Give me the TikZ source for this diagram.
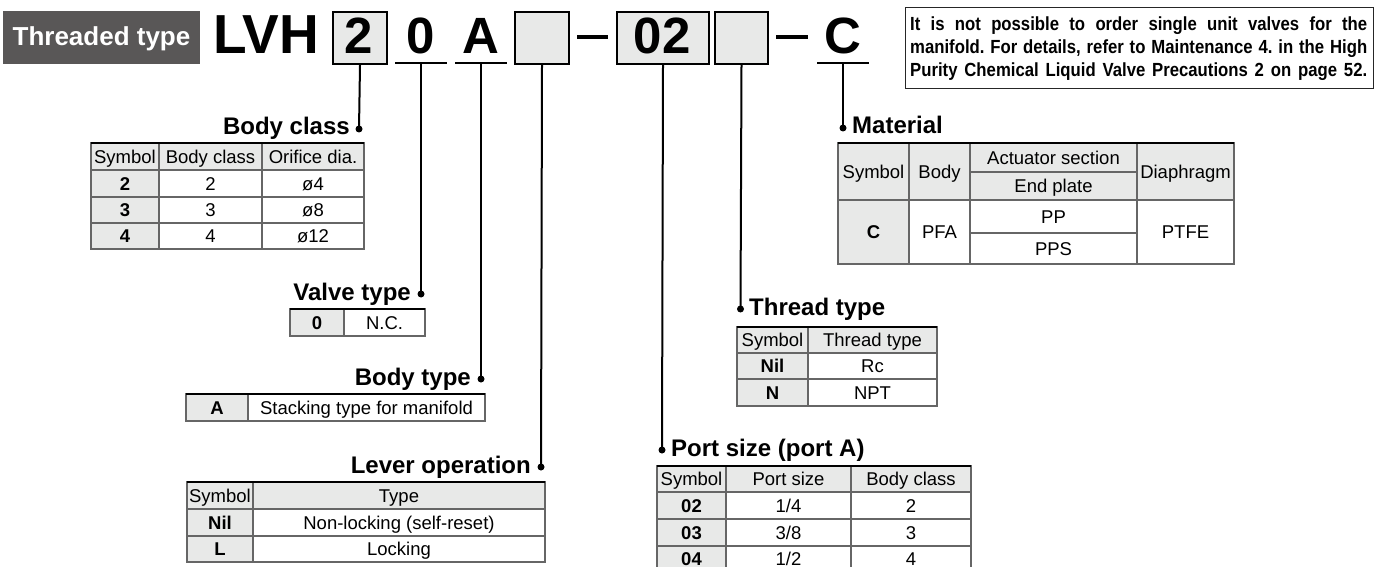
\documentclass[tikz,border=0pt]{standalone}
\usepackage{fontspec}
\setmainfont{Liberation Sans}
\newfontfamily\condfont[FakeStretch=0.88]{Liberation Sans}
\definecolor{cellgray}{HTML}{E8E9E8}
\definecolor{gridgray}{HTML}{666666}
\definecolor{tagbg}{HTML}{595757}
\newcommand{\celln}[4]{\node[txt] (#1) at (#2,#3) {#4};}
\newcommand{\cellb}[4]{\node[btxt] (#1) at (#2,#3) {#4};}
\frenchspacing
\begin{document}
\begin{tikzpicture}[x=1pt,y=-1pt,
  txt/.style={font=\fontsize{18.5}{20}\selectfont, inner sep=0pt, text height=13.2pt, text depth=0pt},
  btxt/.style={font=\fontsize{18.5}{20}\selectfont\bfseries, inner sep=0pt, text height=13.2pt, text depth=0pt},
  grid/.style={draw=gridgray, line width=1.2pt},
  topb/.style={draw=black, line width=2.5pt},
  ttl/.style={font=\fontsize{24}{26}\selectfont\bfseries, inner sep=0pt},
  lead/.style={line width=2pt},
  dotc/.style={circle, fill=black, inner sep=0pt, minimum size=7pt},
  codebox/.style={draw=black, line width=2pt, fill=cellgray, inner sep=0pt},
  code/.style={font=\fontsize{51}{53}\selectfont\bfseries, inner sep=0pt, anchor=base},
  notefont/.style={font=\condfont\bfseries\fontsize{19}{21}\selectfont, inner sep=0pt, anchor=base west}
]
\useasboundingbox (0,0) rectangle (1384,567);

% ---------- header ----------
\node[fill=tagbg, minimum width=197pt, minimum height=53pt, inner sep=0pt, anchor=north west] (tag) at (3,11) {};
\node[font=\fontsize{26}{28}\selectfont\bfseries, text=white, inner sep=0pt, anchor=base] (tagtext) at (101.5,46) {Threaded type};
\node[font=\fontsize{55}{57}\selectfont\bfseries, inner sep=0pt, anchor=base west] (lvh) at (213,54) {LVH};

\node[codebox, minimum width=54pt, minimum height=52pt, anchor=north west] (b2) at (332,11) {};
\node[code] (t2) at (359,54) {2};
\node[code] (t0) at (421,54) {0};
\draw[lead] (395,63) -- (447,63);
\coordinate (u0) at (421,63);
\node[code] (tA) at (481,54) {A};
\draw[lead] (455,63) -- (507,63);
\coordinate (uA) at (481,63);
\node[codebox, minimum width=54pt, minimum height=52pt, anchor=north west] (bL) at (514,11) {};
\draw[line width=3.5pt] (577,37) -- (608,37);
\node[codebox, minimum width=92pt, minimum height=52pt, anchor=north west] (b02) at (616,11) {};
\node[code] (t02) at (662,54) {02};
\node[codebox, minimum width=53pt, minimum height=52pt, anchor=north west] (bT) at (714,11) {};
\draw[line width=3.5pt] (776,37) -- (808,37);
\node[code] (tC) at (843,54) {C};
\draw[lead] (817,63) -- (869,63);
\coordinate (uC) at (843,63);

% note
\node[draw=black!85, line width=1.3pt, minimum width=468pt, minimum height=81pt, inner sep=0pt, anchor=north west] (note) at (905,7) {};
\node[notefont] (n1) at (910,31) {\makebox[457pt][s]{It is not possible to order single unit valves for the}};
\node[notefont] (n2) at (910,54) {\makebox[457pt][s]{manifold. For details, refer to Maintenance 4. in the High}};
\node[notefont] (n3) at (910,77) {\makebox[457pt][s]{Purity Chemical Liquid Valve Precautions 2 on page 52.}};

% ---------- dots and titles ----------
\node[dotc] (dBC) at (359,129) {};
\node[ttl, anchor=base east] (tiBC) at (350,135) {Body class};
\node[dotc] (dVT) at (421,294) {};
\node[ttl, anchor=base east] (tiVT) at (411,300) {Valve type};
\node[dotc] (dBT) at (481,379) {};
\node[ttl, anchor=base east] (tiBT) at (471,385) {Body type};
\node[dotc] (dLO) at (541,467) {};
\node[ttl, anchor=base east] (tiLO) at (531,473) {Lever operation};
\node[dotc] (dPS) at (662,450) {};
\node[ttl, anchor=base west] (tiPS) at (671,456) {Port size (port A)};
\node[dotc] (dTT) at (740.5,309) {};
\node[ttl, anchor=base west] (tiTT) at (749,315) {Thread type};
\node[dotc] (dMA) at (843,128) {};
\node[ttl, anchor=base west] (tiMA) at (852,134) {Material};

\draw[lead] (b2.south) -- (dBC.center);
\draw[lead] (u0) -- (dVT.center);
\draw[lead] (uA) -- (dBT.center);
\draw[lead] (bL.south) -- (dLO.center);
\draw[lead] (b02.south) -- (dPS.center);
\draw[lead] (bT.south) -- (dTT.center);
\draw[lead] (uC) -- (dMA.center);

% ---------- Body class table ----------
\fill[cellgray] (91,143) rectangle (364,170);
\fill[cellgray] (91,170) rectangle (159,249);
\draw[grid] (91,143) rectangle (364,249);
\draw[grid] (91,170) -- (364,170) (91,197) -- (364,197) (91,223) -- (364,223);
\draw[grid] (159,143) -- (159,249) (262,143) -- (262,249);
\draw[topb] (91,143) -- (364,143);
\celln{bc11}{125}{156.5}{Symbol}
\celln{bc12}{210.5}{156.5}{Body class}
\celln{bc13}{313}{156.5}{Orifice dia.}
\cellb{bc21}{125}{183.5}{2}
\celln{bc22}{210.5}{183.5}{2}
\celln{bc23}{313}{183.5}{ø4}
\cellb{bc31}{125}{210}{3}
\celln{bc32}{210.5}{210}{3}
\celln{bc33}{313}{210}{ø8}
\cellb{bc41}{125}{236}{4}
\celln{bc42}{210.5}{236}{4}
\celln{bc43}{313}{236}{ø12}

% ---------- Valve type table ----------
\fill[cellgray] (290,309) rectangle (344,336);
\draw[grid] (290,309) rectangle (425,336);
\draw[grid] (344,309) -- (344,336);
\draw[topb] (290,309) -- (425,309);
\cellb{vt1}{317}{322.5}{0}
\celln{vt2}{384.5}{322.5}{N.C.}

% ---------- Body type table ----------
\fill[cellgray] (186,394) rectangle (248,421);
\draw[grid] (186,394) rectangle (485,421);
\draw[grid] (248,394) -- (248,421);
\draw[topb] (186,394) -- (485,394);
\cellb{bt1}{217}{407.5}{A}
\celln{bt2}{366.5}{407.5}{Stacking type for manifold}

% ---------- Lever operation table ----------
\fill[cellgray] (187,482) rectangle (545,509);
\fill[cellgray] (187,509) rectangle (253,562);
\draw[grid] (187,482) rectangle (545,562);
\draw[grid] (187,509) -- (545,509) (187,536) -- (545,536);
\draw[grid] (253,482) -- (253,562);
\draw[topb] (187,482) -- (545,482);
\celln{lo11}{220}{495.5}{Symbol}
\celln{lo12}{399}{495.5}{Type}
\cellb{lo21}{220}{522.5}{Nil}
\celln{lo22}{399}{522.5}{Non-locking (self-reset)}
\cellb{lo31}{220}{549}{L}
\celln{lo32}{399}{549}{Locking}

% ---------- Thread type table ----------
\fill[cellgray] (737,327) rectangle (937,353);
\fill[cellgray] (737,353) rectangle (808,406);
\draw[grid] (737,327) rectangle (937,406);
\draw[grid] (737,353) -- (937,353) (737,379) -- (937,379);
\draw[grid] (808,327) -- (808,406);
\draw[topb] (737,327) -- (937,327);
\celln{tt11}{772.5}{340}{Symbol}
\celln{tt12}{872.5}{340}{Thread type}
\cellb{tt21}{772.5}{366}{Nil}
\celln{tt22}{872.5}{366}{Rc}
\cellb{tt31}{772.5}{392.5}{N}
\celln{tt32}{872.5}{392.5}{NPT}

% ---------- Port size table ----------
\fill[cellgray] (657,466) rectangle (971,492);
\fill[cellgray] (657,492) rectangle (726,575);
\draw[grid] (657,575) -- (657,466) -- (971,466) -- (971,575);
\draw[grid] (657,492) -- (971,492) (657,519) -- (971,519) (657,546) -- (971,546);
\draw[grid] (726,466) -- (726,575) (851,466) -- (851,575);
\draw[topb] (657,466) -- (971,466);
\celln{ps11}{691.5}{479}{Symbol}
\celln{ps12}{788.5}{479}{Port size}
\celln{ps13}{911}{479}{Body class}
\cellb{ps21}{691.5}{505.5}{02}
\celln{ps22}{788.5}{505.5}{1/4}
\celln{ps23}{911}{505.5}{2}
\cellb{ps31}{691.5}{532.5}{03}
\celln{ps32}{788.5}{532.5}{3/8}
\celln{ps33}{911}{532.5}{3}
\cellb{ps41}{691.5}{559}{04}
\celln{ps42}{788.5}{559}{1/2}
\celln{ps43}{911}{559}{4}

% ---------- Material table ----------
\fill[cellgray] (838,143) rectangle (1234,200);
\fill[cellgray] (838,200) rectangle (909,264);
\draw[grid] (838,143) rectangle (1234,264);
\draw[grid] (838,200) -- (1234,200);
\draw[grid] (970,172) -- (1137,172) (970,233) -- (1137,233);
\draw[grid] (909,143) -- (909,264) (970,143) -- (970,264) (1137,143) -- (1137,264);
\draw[topb] (838,143) -- (1234,143);
\celln{ma11}{873.5}{171.5}{Symbol}
\celln{ma12}{939.5}{171.5}{Body}
\celln{ma13}{1053.5}{157.5}{Actuator section}
\celln{ma14}{1053.5}{186}{End plate}
\celln{ma15}{1185.5}{171.5}{Diaphragm}
\cellb{ma21}{873.5}{232}{C}
\celln{ma22}{939.5}{232}{PFA}
\celln{ma23}{1053.5}{216.5}{PP}
\celln{ma24}{1053.5}{248.5}{PPS}
\celln{ma25}{1185.5}{232}{PTFE}
\end{tikzpicture}
\end{document}
